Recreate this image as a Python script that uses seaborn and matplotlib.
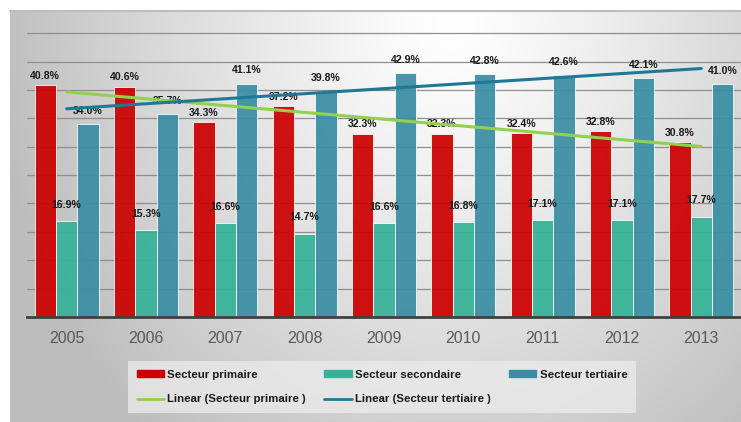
import numpy as np
import pandas as pd
import matplotlib
matplotlib.use("Agg")
import matplotlib.pyplot as plt
from matplotlib.patches import Patch
from matplotlib.lines import Line2D
import seaborn as sns

# Répartition par secteur (en %)
annees = ["2005", "2006", "2007", "2008", "2009", "2010", "2011", "2012", "2013"]
primaire = [40.8, 40.6, 34.3, 37.2, 32.3, 32.3, 32.4, 32.8, 30.8]
secondaire = [16.9, 15.3, 16.6, 14.7, 16.6, 16.8, 17.1, 17.1, 17.7]
tertiaire = [34.0, 35.7, 41.1, 39.8, 42.9, 42.8, 42.6, 42.1, 41.0]
secteurs = ["Secteur primaire", "Secteur secondaire", "Secteur tertiaire"]
couleurs = ["#cc0000", "#35b398", "#3a8ea3"]
tendance_labels = ["Linear (Secteur primaire )", "Linear (Secteur tertiaire )"]
tendance_couleurs = ["#92d050", "#1f7896"]

df = pd.DataFrame({
    "annee": annees * 3,
    "part": primaire + secondaire + tertiaire,
    "secteur": [s for s in secteurs for _ in annees],
})

sns.set_theme(style="white")
plt.rcParams["font.family"] = ["Liberation Sans", "DejaVu Sans"]

W, H = 741, 422
fig = plt.figure(figsize=(W / 100, H / 100), dpi=100)
fig.patch.set_facecolor("white")

# Panneau de fond en dégradé radial
bg = fig.add_axes([10 / W, 0, (W - 10) / W, (H - 11) / H], zorder=-10)
gx, gy = np.meshgrid(np.linspace(10, W, 400), np.linspace(11, H, 240))
d = np.sqrt(((gx - 450) / 420) ** 2 + ((gy - 20) / 500) ** 2)
shade = 1 - 0.23 * np.clip(d, 0, 1.1) ** 1.2
bg.imshow(np.dstack([shade] * 3), aspect="auto", extent=[0, 1, 0, 1],
          interpolation="bilinear", vmin=0, vmax=1)
bg.set_axis_off()
fig.add_artist(Line2D([10 / W, 1], [1 - 11 / H, 1 - 11 / H],
                      transform=fig.transFigure, color="#bdbdbd", lw=1.5))

ax = fig.add_axes([27 / W, 1 - 317 / H, (W - 27) / W, (317 - 32) / H])
ax.patch.set_alpha(0)

sns.barplot(data=df, x="annee", y="part", hue="secteur", hue_order=secteurs,
            palette=couleurs, saturation=1, width=0.81, ax=ax, legend=False,
            edgecolor=(1, 1, 1, 0.45), linewidth=0.6, alpha=0.93)

# Étiquettes de valeurs
paddings = [3, 8, 6]
for cont, pad in zip(ax.containers, paddings):
    ax.bar_label(cont, fmt="%.1f%%", padding=pad, fontsize=7.6,
                 fontweight="bold", color="#1a1a1a")

# Courbes de tendance linéaires
x = np.arange(len(annees))
for vals, col in zip([primaire, tertiaire], tendance_couleurs):
    sns.regplot(x=x, y=vals, scatter=False, ci=None, ax=ax, truncate=True,
                color=col, line_kws=dict(lw=2.2, zorder=4))

ax.set_xlim(-0.5, len(annees) - 0.5)
ax.set_ylim(0, 50.2)
ax.set_yticks(np.arange(5, 51, 5))
ax.yaxis.grid(True, color="#8f8f8f", lw=0.9)
ax.set_axisbelow(True)
ax.set_yticklabels([])
ax.tick_params(axis="y", length=0)
ax.tick_params(axis="x", length=0, pad=10, labelsize=11.5, labelcolor="#595959")
ax.set_xlabel("")
ax.set_ylabel("")
for side in ["left", "right", "top"]:
    ax.spines[side].set_visible(False)
ax.spines["bottom"].set_color("#404040")
ax.spines["bottom"].set_linewidth(2)

# Légende
h = [Patch(color=couleurs[0]), Line2D([], [], color=tendance_couleurs[0], lw=2),
     Patch(color=couleurs[1]), Line2D([], [], color=tendance_couleurs[1], lw=2),
     Patch(color=couleurs[2])]
l = [secteurs[0], tendance_labels[0], secteurs[1], tendance_labels[1], secteurs[2]]
leg = fig.legend(h, l, ncol=3, loc="upper left",
                 bbox_to_anchor=(128 / W, 1 - 361 / H), borderaxespad=0,
                 prop=dict(size=8.2, weight="bold"), frameon=True,
                 facecolor="#ececec", edgecolor="none", framealpha=0.75,
                 handlelength=2.4, handleheight=0.55, handletextpad=0.3,
                 columnspacing=1.6, labelspacing=1.3, borderpad=0.75)
leg.get_frame().set_boxstyle("square", pad=0)
for t in leg.get_texts():
    t.set_color("#1a1a1a")

fig.savefig("out.png", dpi=100)
